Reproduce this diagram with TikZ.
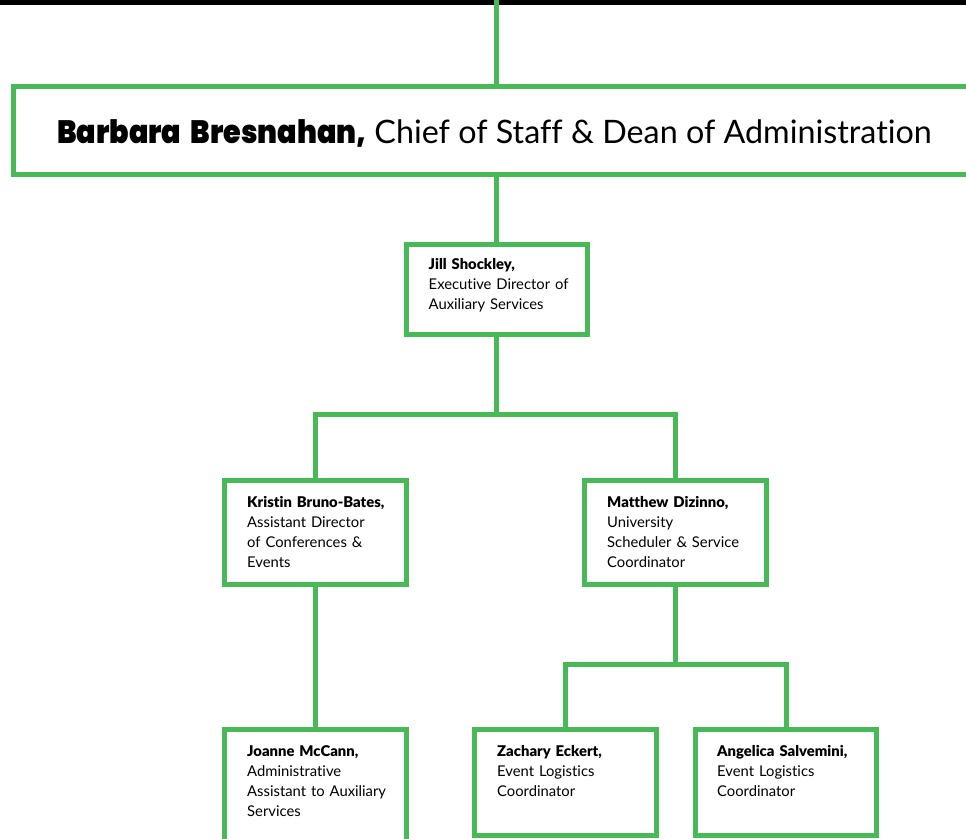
\documentclass[tikz,border=0pt]{standalone}
\usepackage{fontspec}
\setmainfont{Lato}[Ligatures=NoCommon]
\newfontfamily\heavyfont{Poppins Black}
\newfontfamily\namefont{Lato Black}[Ligatures=NoCommon]
\definecolor{orggreen}{RGB}{73,185,88}
\begin{document}
\begin{tikzpicture}[x=1pt,y=-1pt,
  orgbox/.style={draw=orggreen, line width=5pt, rectangle, inner sep=0pt, outer sep=0pt, anchor=north west},
  conn/.style={draw=orggreen, line width=5pt},
  nametext/.style={anchor=base west, inner sep=0pt, text width=170pt, align=left, font=\fontsize{14.8}{20}\selectfont},
  bigtext/.style={anchor=base, inner sep=0pt, font=\fontsize{32.3}{36}\selectfont}]
\useasboundingbox (0,0) rectangle (966,838);
\clip (0,0) rectangle (966,838);
\fill[black] (0,0) rectangle (966,5);

% boxes
\node[orgbox, minimum width=962pt, minimum height=87.5pt] (chief) at (13.5,86.5) {};
\node[orgbox, minimum width=181pt, minimum height=90pt] (jill) at (406,244.5) {};
\node[orgbox, minimum width=182pt, minimum height=104pt] (kristin) at (224.5,480.5) {};
\node[orgbox, minimum width=182pt, minimum height=104pt] (matthew) at (584.5,480.5) {};
\node[orgbox, minimum width=182pt, minimum height=130pt] (joanne) at (224.5,729.5) {};
\node[orgbox, minimum width=182pt, minimum height=105.5pt] (zachary) at (474.5,729.5) {};
\node[orgbox, minimum width=181pt, minimum height=105.5pt] (angelica) at (695.5,729.5) {};

% texts
\node[bigtext] (chief-t) at ([shift={(0,12.75)}]chief.center) {\scalebox{0.886}[1]{\heavyfont Barbara\hspace{0.32em}Bresnahan,} Chief of Staff \& Dean of Administration};
\node[nametext] (jill-t) at ([shift={(22.5,25)}]jill.north west) {{\namefont Jill Shockley,}\\Executive Director of\\Auxiliary Services};
\node[nametext] (kristin-t) at ([shift={(22.5,27)}]kristin.north west) {{\namefont Kristin Bruno-Bates,}\\Assistant Director\\of Conferences \&\\Events};
\node[nametext] (matthew-t) at ([shift={(22.5,27)}]matthew.north west) {{\namefont Matthew Dizinno,}\\University\\Scheduler \& Service\\Coordinator};
\node[nametext] (joanne-t) at ([shift={(22.5,26.5)}]joanne.north west) {{\namefont Joanne McCann,}\\Administrative\\Assistant to Auxiliary\\Services};
\node[nametext] (zachary-t) at ([shift={(22.5,26.5)}]zachary.north west) {{\namefont Zachary Eckert,}\\Event Logistics\\Coordinator};
\node[nametext] (angelica-t) at ([shift={(21.5,26.5)}]angelica.north west) {{\namefont Angelica Salvemini,}\\Event Logistics\\Coordinator};

% connectors
\coordinate (topend) at (496.5,0);
\coordinate (bar1) at (496.5,414);
\coordinate (bar2) at (675.5,664);
\draw[conn] (topend) -- (topend |- chief.north);
\draw[conn] (jill.north |- chief.south) -- (jill.north);
\draw[conn] (jill.south) -- (bar1);
\draw[conn] (kristin.north) -- (kristin.north |- bar1) -- (matthew.north |- bar1) -- (matthew.north);
\draw[conn] (kristin.south) -- (joanne.north);
\draw[conn] (matthew.south) -- (bar2);
\draw[conn] (zachary.north) -- (zachary.north |- bar2) -- (angelica.north |- bar2) -- (angelica.north);
\end{tikzpicture}
\end{document}
